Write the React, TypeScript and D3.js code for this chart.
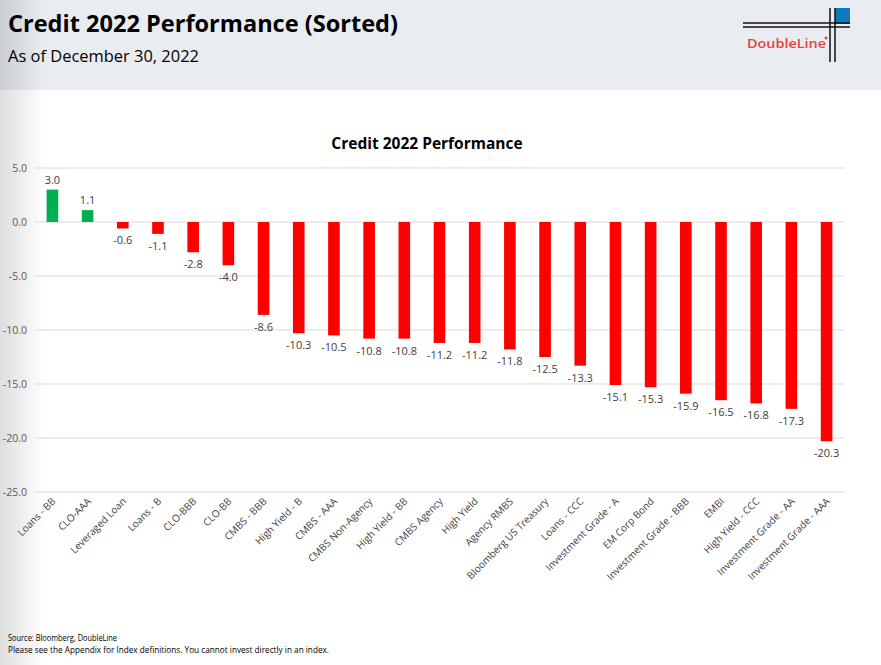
import * as d3 from 'd3';

const W = 881;
const H = 665;

const categories = [
  'Loans - BB', 'CLO-AAA', 'Leveraged Loan', 'Loans - B', 'CLO-BBB', 'CLO-BB',
  'CMBS - BBB', 'High Yield - B', 'CMBS - AAA', 'CMBS Non-Agency', 'High Yield - BB',
  'CMBS Agency', 'High Yield', 'Agency RMBS', 'Bloomberg US Treasury', 'Loans - CCC',
  'Investment Grade - A', 'EM Corp Bond', 'Investment Grade - BBB', 'EMBI',
  'High Yield - CCC', 'Investment Grade - AA', 'Investment Grade - AAA',
];
const returns = [
  3.0, 1.1, -0.6, -1.1, -2.8, -4.0, -8.6, -10.3, -10.5, -10.8, -10.8, -11.2,
  -11.2, -11.8, -12.5, -13.3, -15.1, -15.3, -15.9, -16.5, -16.8, -17.3, -20.3,
];
const yTicks = [5, 0, -5, -10, -15, -20, -25];

const GREEN = '#00b050';
const RED = '#ff0000';
const FONT = '"Open Sans", "Noto Sans", sans-serif';

// d3.format emits a unicode minus; the source uses a plain hyphen
const fmt = (v: number) => d3.format('.1f')(v).replace('\u2212', '-');

export default function App() {
  const x = d3.scaleBand<string>().domain(categories).range([35, 844]).paddingInner(0.67).paddingOuter(0.33);
  const y = d3.scaleLinear().domain([-25, 5]).range([492, 168]);

  return (
    <div style={{ position: 'absolute', left: 0, top: 0 }}>
      <svg width={W} height={H} style={{ display: 'block' }}>
        <defs>
          <linearGradient id="shade" x1="0" x2="1" y1="0" y2="0">
            <stop offset="0" stopColor="#000" stopOpacity={0.13} />
            <stop offset="1" stopColor="#000" stopOpacity={0} />
          </linearGradient>
        </defs>
        <rect width={W} height={H} fill="#fff" />
        <rect width={W} height={90} fill="#e9ecf1" />
        <rect width={45} height={H} fill="url(#shade)" />

        {/* header */}
        <text x={8} y={32} fontFamily={FONT} fontWeight={700} fontSize={24} fill="#000"
          textLength={390} lengthAdjust="spacingAndGlyphs">Credit 2022 Performance (Sorted)</text>
        <text x={8} y={62} fontFamily={FONT} fontSize={17} fill="#000"
          textLength={191} lengthAdjust="spacingAndGlyphs">As of December 30, 2022</text>

        {/* logo */}
        <g>
          <rect x={835} y={8} width={15} height={16} fill="#0a7cc6" />
          <line x1={743} x2={850} y1={23} y2={23} stroke="#111" strokeWidth={1.5} />
          <line x1={743} x2={850} y1={27} y2={27} stroke="#111" strokeWidth={1.5} />
          <line x1={830} x2={830} y1={8} y2={62} stroke="#111" strokeWidth={1.5} />
          <line x1={835} x2={835} y1={8} y2={62} stroke="#111" strokeWidth={1.5} />
          <text x={747} y={48} fontFamily={FONT} fontWeight={600} fontSize={13} fill="#e8403a"
            textLength={79} lengthAdjust="spacingAndGlyphs">DoubleLine</text>
          <circle cx={826} cy={38} r={1.5} fill="#e8403a" />
        </g>

        {/* chart title */}
        <text x={427} y={149} textAnchor="middle" fontFamily={FONT} fontWeight={700} fontSize={15.5} fill="#000">
          Credit 2022 Performance
        </text>

        {/* grid + y axis */}
        {yTicks.map((t) => (
          <g key={t}>
            <line x1={35} x2={844} y1={y(t)} y2={y(t)} stroke="#d9d9d9" strokeWidth={1} />
            <text x={27} y={y(t)} dy="0.35em" textAnchor="end" fontFamily={FONT} fontSize={10.5} fill="#595959">
              {fmt(t)}
            </text>
          </g>
        ))}

        {/* bars */}
        {categories.map((c, i) => {
          const v = returns[i];
          const bx = x(c)!;
          const top = Math.min(y(v), y(0));
          const h = Math.abs(y(v) - y(0));
          const cx = bx + x.bandwidth() / 2;
          return (
            <g key={c}>
              <rect x={bx} y={top} width={x.bandwidth()} height={h} fill={v >= 0 ? GREEN : RED} />
              <text x={cx} y={v >= 0 ? y(v) - 6 : y(v) + 16} textAnchor="middle" fontFamily={FONT}
                fontSize={11} fill="#404040">{fmt(v)}</text>
              <text transform={`translate(${cx + 4},${502}) rotate(-45)`} textAnchor="end"
                fontFamily={FONT} fontSize={10} fill="#404040">{c}</text>
            </g>
          );
        })}

        {/* footer */}
        <text x={8} y={641} fontFamily={FONT} fontSize={8.5} fill="#000"
          textLength={109} lengthAdjust="spacingAndGlyphs">Source: Bloomberg, DoubleLine</text>
        <text x={8} y={653} fontFamily={FONT} fontSize={8.5} fill="#000"
          textLength={321} lengthAdjust="spacingAndGlyphs">
          Please see the Appendix for Index definitions. You cannot invest directly in an index.
        </text>
      </svg>
    </div>
  );
}
